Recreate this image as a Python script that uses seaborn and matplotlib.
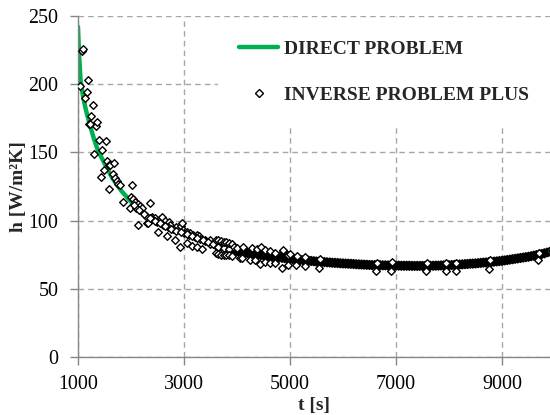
import matplotlib
matplotlib.use("Agg")
import matplotlib.pyplot as plt
import seaborn as sns
import pandas as pd
from matplotlib.lines import Line2D

# ---- data: direct problem curve ----
direct_t = [1000, 1020, 1050, 1100, 1150, 1226, 1300, 1380, 1500, 1650, 1824, 2075,
            2390, 2700, 2988, 3300, 3680, 4057, 4500, 5000, 5500, 6000, 6500, 7000,
            7500, 8000, 8500, 9000, 9500, 9906]
direct_h = [242, 222, 202, 190, 181, 170, 160, 151, 142, 131, 121.5, 110.5,
            101, 94.5, 91, 86, 80.5, 77, 74.5, 72, 70, 68.6, 67.5, 67,
            66.8, 67.3, 68.6, 70.5, 73.5, 77.2]

# ---- data: inverse problem plus (dense band along the curve) ----
band_t = [3900, 3950, 4000, 4050, 4100, 4150, 4200, 4250, 4300, 4350, 4400, 4450,
          4500, 4550, 4600, 4650, 4700, 4750, 4800, 4850, 4900, 4950, 5000, 5050,
          5100, 5150, 5200, 5250, 5300, 5350, 5400, 5450, 5500, 5550, 5600, 5650,
          5700, 5750, 5800, 5850, 5900, 5950, 6000, 6050, 6100, 6150, 6200, 6250,
          6300, 6350, 6400, 6450, 6500, 6550, 6600, 6650, 6700, 6750, 6800, 6850,
          6900, 6950, 7000, 7050, 7100, 7150, 7200, 7250, 7300, 7350, 7400, 7450,
          7500, 7550, 7600, 7650, 7700, 7750, 7800, 7850, 7900, 7950, 8000, 8050,
          8100, 8150, 8200, 8250, 8300, 8350, 8400, 8450, 8500, 8550, 8600, 8650,
          8700, 8750, 8800, 8850, 8900, 8950, 9000, 9050, 9100, 9150, 9200, 9250,
          9300, 9350, 9400, 9450, 9500, 9550, 9600, 9650, 9700, 9750, 9800, 9850,
          9900]
band_h = [78.6, 78.1, 77.6, 77.1, 76.8, 76.5, 76.2, 75.9, 75.6, 75.3, 75.0, 74.8,
          74.5, 74.2, 74.0, 73.7, 73.5, 73.2, 73.0, 72.7, 72.5, 72.2, 72.0, 71.8,
          71.6, 71.4, 71.2, 71.0, 70.8, 70.6, 70.4, 70.2, 70.0, 69.9, 69.7, 69.6,
          69.4, 69.3, 69.1, 69.0, 68.9, 68.7, 68.6, 68.5, 68.4, 68.3, 68.2, 68.0,
          67.9, 67.8, 67.7, 67.6, 67.5, 67.4, 67.4, 67.3, 67.3, 67.2, 67.2, 67.1,
          67.1, 67.0, 67.0, 67.0, 66.9, 66.9, 66.9, 66.9, 66.8, 66.8, 66.8, 66.8,
          66.8, 66.8, 66.8, 66.9, 66.9, 67.0, 67.0, 67.1, 67.2, 67.2, 67.3, 67.4,
          67.5, 67.7, 67.8, 67.9, 68.1, 68.2, 68.4, 68.5, 68.6, 68.8, 69.0, 69.2,
          69.3, 69.5, 69.7, 69.9, 70.1, 70.3, 70.5, 70.8, 71.1, 71.4, 71.7, 72.0,
          72.3, 72.6, 72.9, 73.2, 73.5, 73.9, 74.3, 74.7, 75.1, 75.5, 76.0, 76.5,
          77.0]

# ---- data: inverse problem plus (individual points) ----
inv_t = [1038, 1070, 1100, 1132, 1163, 1195, 1208, 1226, 1245, 1290, 1308, 1340,
         1365, 1396, 1428, 1460, 1485, 1522, 1553, 1585, 1585, 1604, 1653, 1680,
         1700, 1730, 1760, 1790, 1843, 1980, 2025, 2000, 2030, 2080, 2130, 2170,
         2200, 2138, 2265, 2308, 2327, 2358, 2390, 2453, 2516, 2547, 2578, 2642,
         2673, 2723, 2736, 2830, 2849, 2900, 2925, 2943, 2957, 2980, 3051, 3051,
         3113, 3145, 3176, 3240, 3240, 3290, 3333, 3397, 3491,
         2100, 2300, 2400, 2500, 2600, 2700, 2800, 3000, 3100, 3200, 3300, 3400,
         3500, 3600, 3700, 3800,
         2050, 2150, 2250, 2350, 2450, 2550, 2650, 2750, 2850, 2950, 3050, 3150,
         3250, 3350, 3450, 3550, 3650, 3750, 3850,
         3600, 3650, 3700, 3750, 3800, 3850, 3900, 3600, 3650, 3700, 3750, 3800,
         3850, 3900, 3950, 4000, 4057, 4120, 4088, 4245, 4277, 4340, 4371, 4434,
         4447, 4528, 4528, 4623, 4623, 4717, 4717, 4843, 4862, 4874, 4969, 4969,
         5000, 5108, 5127, 5284, 5284, 5566, 5554,
         6648, 6623, 6920, 6900, 7580, 7567, 7944, 7944, 8133, 8133, 8775, 8762,
         9705, 9686]
inv_h = [199, 224, 226, 190, 194, 203, 171, 171, 177, 185, 149, 169,
         172, 159, 132, 152, 137, 158, 144, 123, 141, 141, 134, 142,
         131, 129, 127, 126, 114, 109, 126, 117, 116, 114, 112, 111,
         109, 97, 104, 98, 98, 113, 103, 102, 92, 101, 103, 99.5,
         88.5, 99, 97, 86, 95, 93, 80.6, 96, 98, 93, 92, 83.6,
         91, 81.6, 89.7, 89.7, 81, 88.5, 79.4, 86, 86,
         109.5, 103, 101, 99, 97, 95, 93.5, 90.8, 89.3, 87.8, 86.3, 84.8,
         83.2, 81.7, 80.3, 79.4,
         111.5, 108, 104.5, 102, 100, 98, 96, 94.2, 92.7, 91.3, 90, 88.5,
         87, 85.5, 84, 82.5, 81, 79.8, 79,
         85.5, 85.5, 85, 84.5, 84, 83.5, 83, 76, 75.5, 75, 75, 74.5,
         74.5, 74, 81, 80, 72.5, 81, 72.5, 71.3, 80, 70.8, 79, 68,
         81, 78.6, 70, 77.4, 68.8, 76.6, 68.8, 65.2, 78, 78.6, 75, 67.6,
         75.5, 67.6, 74, 73.3, 66.4, 72, 65.2,
         68.8, 62.7, 69.3, 62.7, 68.8, 62.7, 68.8, 62.7, 68.8, 62.7, 70.8, 64.4,
         76.2, 70.8]

x_ticks = [1000, 3000, 5000, 7000, 9000]
y_ticks = [0, 50, 100, 150, 200, 250]
x_label = "t [s]"
y_label = "h [W/m²K]"
labels = ["DIRECT PROBLEM", "INVERSE PROBLEM PLUS"]

sns.set_theme(style="white")
plt.rcParams["font.family"] = ["Liberation Serif", "DejaVu Serif"]

GREEN = "#00B050"
GRID = "#A6A6A6"
SPINE = "#868686"

fig = plt.figure(figsize=(5.5, 4.15), dpi=100)
ax = fig.add_axes([78 / 550, 58 / 415, 472 / 550, 341 / 415])

df_direct = pd.DataFrame({"t": direct_t, "h": direct_h})
df_band = pd.DataFrame({"t": band_t, "h": band_h})
df_inv = pd.DataFrame({"t": inv_t, "h": inv_h})

sns.lineplot(data=df_direct, x="t", y="h", ax=ax, color=GREEN, lw=3.2,
             sort=False, zorder=2)
sns.scatterplot(data=df_band, x="t", y="h", ax=ax, marker="D", s=18,
                facecolor="none", edgecolor="black", linewidth=1.4, zorder=3)
sns.scatterplot(data=df_inv, x="t", y="h", ax=ax, marker="D", s=15,
                facecolor="white", edgecolor="black", linewidth=1.0, zorder=4)

ax.set_xlim(1000, 9906)
ax.set_ylim(0, 250)
ax.set_xticks(x_ticks)
ax.set_yticks(y_ticks)
ax.set_xticklabels([str(v) for v in x_ticks])
ax.set_yticklabels([str(v) for v in y_ticks])
ax.tick_params(axis="both", labelsize=14.4, colors="black", length=6,
               width=1, direction="out")
ax.tick_params(axis="x", pad=7, color=SPINE)
ax.tick_params(axis="y", pad=8, color=SPINE)
ax.xaxis.set_ticks_position("bottom")
ax.yaxis.set_ticks_position("left")

ax.grid(True, color=GRID, linestyle=(0, (4, 3)), linewidth=1.0)
ax.set_axisbelow(True)
for side in ["top", "right"]:
    ax.spines[side].set_visible(False)
for side in ["left", "bottom"]:
    ax.spines[side].set_color(SPINE)
    ax.spines[side].set_linewidth(1.0)

ax.set_xlabel(x_label, fontsize=14, fontweight="bold", labelpad=2)
ax.set_ylabel(y_label, fontsize=14, fontweight="bold", labelpad=1)

handles = [
    Line2D([0], [0], color=GREEN, lw=3.2),
    Line2D([0], [0], marker="D", ls="none", markersize=4,
           markerfacecolor="white", markeredgecolor="black", markeredgewidth=1.0),
]
leg = ax.legend(handles, labels, loc="upper left", bbox_to_anchor=(0.296, 0.991),
                frameon=True, fancybox=False, framealpha=1.0, edgecolor="white",
                facecolor="white", prop={"family": "Liberation Serif",
                                         "weight": "bold", "size": 14},
                handlelength=2.0, handletextpad=0.3, labelspacing=1.45,
                borderpad=1.1, borderaxespad=0)
leg.get_frame().set_linewidth(0)

fig.savefig("out.png", dpi=100)
